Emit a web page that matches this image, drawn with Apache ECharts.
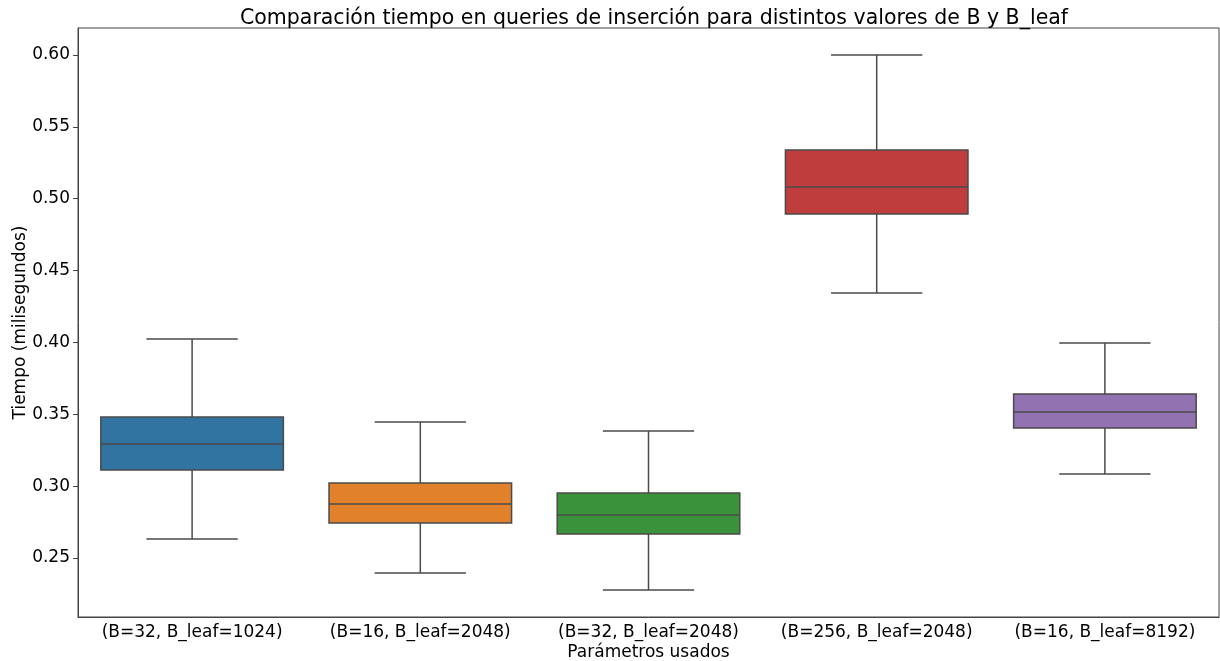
<!DOCTYPE html>
<html>
<head>
<meta charset="utf-8">
<script src="https://cdn.jsdelivr.net/npm/echarts@6/dist/echarts.min.js"></script>
<style>
html,body{margin:0;padding:0;background:#fff;}
#chart{width:1220px;height:661px;}
</style>
</head>
<body>
<div id="chart"></div>
<script>
const categories = ['(B=32, B_leaf=1024)', '(B=16, B_leaf=2048)', '(B=32, B_leaf=2048)', '(B=256, B_leaf=2048)', '(B=16, B_leaf=8192)'];
const whiskerLow = [0.2632, 0.2396, 0.2277, 0.4344, 0.3085];
const q1 = [0.3112, 0.2744, 0.2667, 0.4894, 0.3405];
const median = [0.3293, 0.2876, 0.2799, 0.5082, 0.3516];
const q3 = [0.3481, 0.3022, 0.2952, 0.5339, 0.3641];
const whiskerHigh = [0.4024, 0.3446, 0.3384, 0.6000, 0.3996];
const colors = ['#3274a1', '#e1812c', '#3a923a', '#c03d3e', '#9372b2'];
const yTicks = [0.25, 0.30, 0.35, 0.40, 0.45, 0.50, 0.55, 0.60];

const data = categories.map((c, i) => [i, whiskerLow[i], q1[i], median[i], q3[i], whiskerHigh[i]]);
const font = 'DejaVu Sans';
const edge = '#4a4a4a';

const chart = echarts.init(document.getElementById('chart'));
chart.setOption({
  backgroundColor: '#fff',
  animation: false,
  title: {
    text: 'Comparación tiempo en queries de inserción para distintos valores de B y B_leaf',
    left: 649, top: 3, textAlign: 'center',
    textStyle: {fontFamily: font, fontSize: 20.5, fontWeight: 'normal', color: '#000'}
  },
  grid: {left: 78, right: 1, top: 28, bottom: 44, show: true, borderColor: '#444', borderWidth: 1,
    containLabel: false, outerBoundsMode: 'none'},
  xAxis: {
    type: 'category', data: categories, boundaryGap: true,
    name: 'Parámetros usados', nameLocation: 'middle', nameGap: 27, nameMoveOverlap: false,
    nameTextStyle: {fontFamily: font, fontSize: 17, color: '#000'},
    axisLine: {lineStyle: {color: '#444', width: 1}},
    axisTick: {alignWithLabel: true, length: 5, lineStyle: {color: '#444'}},
    axisLabel: {fontFamily: font, fontSize: 17, color: '#000', margin: 7, interval: 0},
    splitLine: {show: false}
  },
  yAxis: {
    type: 'value', min: 0.2089, max: 0.6188,
    name: 'Tiempo (milisegundos)', nameLocation: 'middle', nameGap: 49, nameMoveOverlap: false,
    nameTextStyle: {fontFamily: font, fontSize: 17, color: '#000'},
    axisLine: {show: true, lineStyle: {color: '#444', width: 1}},
    axisTick: {show: true, length: 5, customValues: yTicks, lineStyle: {color: '#444'}},
    axisLabel: {fontFamily: font, fontSize: 17, color: '#000', margin: 8, customValues: yTicks,
      formatter: v => v.toFixed(2)},
    splitLine: {show: false}
  },
  series: [{
    type: 'custom',
    data: data,
    encode: {x: 0, y: [1, 2, 3, 4, 5]},
    renderItem: function (params, api) {
      const idx = api.value(0);
      const band = api.size([1, 0])[0];
      const bw = band * 0.8, cw = band * 0.4;
      const pLow = api.coord([idx, api.value(1)]);
      const pQ1 = api.coord([idx, api.value(2)]);
      const pMed = api.coord([idx, api.value(3)]);
      const pQ3 = api.coord([idx, api.value(4)]);
      const pHigh = api.coord([idx, api.value(5)]);
      const x = pMed[0];
      const ls = {stroke: edge, lineWidth: 1.5, fill: null};
      return {
        type: 'group',
        children: [
          {type: 'line', shape: {x1: x, y1: pQ3[1], x2: x, y2: pHigh[1]}, style: ls},
          {type: 'line', shape: {x1: x, y1: pQ1[1], x2: x, y2: pLow[1]}, style: ls},
          {type: 'line', shape: {x1: x - cw / 2, y1: pHigh[1], x2: x + cw / 2, y2: pHigh[1]}, style: ls},
          {type: 'line', shape: {x1: x - cw / 2, y1: pLow[1], x2: x + cw / 2, y2: pLow[1]}, style: ls},
          {type: 'rect', shape: {x: x - bw / 2, y: pQ3[1], width: bw, height: pQ1[1] - pQ3[1]},
            style: {fill: colors[params.dataIndex], stroke: edge, lineWidth: 1.5}},
          {type: 'line', shape: {x1: x - bw / 2, y1: pMed[1], x2: x + bw / 2, y2: pMed[1]}, style: ls}
        ]
      };
    }
  }]
});
</script>
</body>
</html>
